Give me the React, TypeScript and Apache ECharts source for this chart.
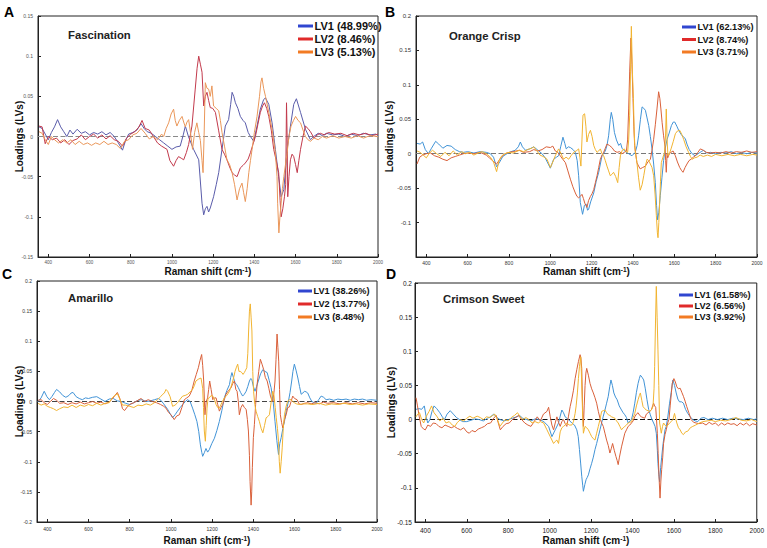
import React, { useEffect, useRef } from "react";
import * as echarts from "echarts";

type Pt = [number, number];

// ---------- tick labels / texts ----------
const xTicks = [400, 600, 800, 1000, 1200, 1400, 1600, 1800, 2000];
const panelLetters = ["A", "B", "C", "D"];
const panelTitles = ["Fascination", "Orange Crisp", "Amarillo", "Crimson Sweet"];
const legendA = ["LV1 (48.99%)", "LV2 (8.46%)", "LV3 (5.13%)"];
const legendB = ["LV1 (62.13%)", "LV2 (8.74%)", "LV3 (3.71%)"];
const legendC = ["LV1 (38.26%)", "LV2 (13.77%)", "LV3 (8.48%)"];
const legendD = ["LV1 (61.58%)", "LV2 (6.56%)", "LV3 (3.92%)"];
const yRangeA = [-0.15, 0.15];
const yRangeB = [-0.15, 0.2];
const yRangeC = [-0.2, 0.2];
const yRangeD = [-0.15, 0.2];
const xRange = [350, 2000];

// ---------- Panel A : Fascination ----------
const aLV1: Pt[] = [[355,0.012],[370,0.01],[385,0.003],[400,-0.004],[415,0.005],[430,0.012],[445,0.021],[460,0.012],[475,0.006],[490,0.0],[505,0.008],[520,0.003],[540,0.009],[560,0.004],[580,0.006],[600,0.002],[620,0.005],[640,0.003],[660,0.006],[680,0.002],[700,0.005],[720,0.0],[740,-0.008],[760,-0.017],[775,-0.005],[790,0.003],[810,0.005],[830,0.008],[850,0.016],[865,0.01],[880,0.006],[900,0.004],[920,0.0],[940,-0.004],[960,-0.008],[980,-0.012],[1000,-0.016],[1020,-0.013],[1040,-0.012],[1055,0.002],[1065,0.013],[1080,0.0],[1105,-0.016],[1130,-0.029],[1146,-0.083],[1154,-0.0975],[1162,-0.09],[1170,-0.087],[1178,-0.094],[1186,-0.089],[1202,-0.075],[1215,-0.06],[1227,-0.045],[1243,-0.016],[1259,0.013],[1275,0.021],[1285,0.04],[1292,0.055],[1300,0.05],[1308,0.042],[1320,0.035],[1332,0.025],[1345,0.02],[1356,0.017],[1370,0.005],[1381,0.0],[1397,-0.006],[1413,0.013],[1429,0.034],[1445,0.046],[1454,0.048],[1470,0.04],[1486,0.017],[1502,-0.016],[1518,-0.05],[1530,-0.075],[1543,-0.066],[1559,-0.016],[1575,0.013],[1591,0.04],[1604,0.047],[1624,0.03],[1648,0.009],[1672,-0.004],[1688,0.0],[1710,0.004],[1730,0.001],[1750,0.004],[1780,0.002],[1810,0.003],[1840,0.0],[1870,0.003],[1900,0.001],[1930,0.004],[1960,0.002],[1990,0.003],[2000,0.001]];
const aLV2: Pt[] = [[355,0.013],[370,0.012],[385,-0.009],[400,0.0],[420,-0.004],[440,-0.002],[460,-0.008],[480,-0.004],[500,-0.01],[520,-0.005],[540,-0.003],[560,0.002],[580,-0.004],[600,0.0],[620,0.003],[640,-0.002],[660,0.002],[680,-0.003],[700,0.001],[720,-0.004],[740,-0.006],[760,-0.012],[780,-0.002],[800,0.003],[820,0.006],[840,0.012],[855,0.02],[870,0.01],[890,0.008],[910,0.0],[930,-0.008],[950,-0.012],[976,-0.016],[990,-0.03],[1008,-0.037],[1020,-0.03],[1032,-0.025],[1045,-0.027],[1057,-0.029],[1070,-0.02],[1081,-0.01],[1097,0.013],[1113,0.059],[1122,0.085],[1130,0.1],[1138,0.09],[1146,0.08],[1154,0.038],[1162,0.05],[1170,0.055],[1178,0.045],[1186,0.036],[1198,0.035],[1211,0.03],[1227,0.007],[1243,-0.016],[1255,-0.022],[1267,-0.029],[1280,-0.038],[1292,-0.045],[1304,-0.048],[1316,-0.05],[1332,-0.039],[1345,-0.036],[1356,-0.033],[1370,-0.028],[1381,-0.02],[1393,-0.01],[1405,0.0],[1417,0.015],[1429,0.03],[1440,0.038],[1449,0.042],[1460,0.035],[1470,0.025],[1482,0.008],[1494,-0.016],[1506,-0.03],[1518,-0.045],[1525,-0.08],[1530,-0.1],[1538,-0.09],[1546,-0.075],[1552,-0.06],[1556,0.042],[1559,0.0],[1562,-0.075],[1568,-0.05],[1575,-0.029],[1583,-0.022],[1591,-0.025],[1600,-0.035],[1608,-0.045],[1616,-0.03],[1624,-0.016],[1636,0.0],[1648,0.013],[1660,0.01],[1672,0.006],[1690,-0.002],[1705,0.002],[1720,0.004],[1740,0.002],[1760,0.005],[1790,0.003],[1820,0.004],[1850,0.001],[1880,0.004],[1910,0.002],[1940,0.004],[1970,0.001],[2000,0.003]];
const aLV3: Pt[] = [[355,0.006],[370,0.004],[385,-0.004],[400,-0.01],[415,0.0],[430,-0.004],[450,-0.008],[470,-0.004],[490,-0.008],[510,-0.004],[530,-0.01],[550,-0.006],[570,-0.01],[590,-0.008],[610,-0.011],[630,-0.008],[650,-0.01],[670,-0.006],[690,-0.01],[710,-0.008],[730,-0.01],[750,-0.015],[770,-0.006],[790,-0.004],[810,0.002],[830,0.004],[850,0.01],[870,0.004],[890,-0.003],[910,0.0],[930,-0.004],[950,0.003],[960,0.0],[972,0.01],[984,0.017],[996,0.028],[1008,0.034],[1016,0.02],[1024,0.013],[1036,0.02],[1049,0.025],[1057,0.018],[1065,0.012],[1073,0.018],[1081,0.021],[1090,0.005],[1100,-0.016],[1110,0.005],[1121,0.017],[1130,0.005],[1138,-0.005],[1146,-0.03],[1151,-0.045],[1156,0.0],[1162,0.067],[1170,0.06],[1178,0.059],[1186,0.05],[1194,0.063],[1202,0.038],[1215,0.035],[1227,0.032],[1235,0.02],[1243,0.005],[1255,-0.012],[1267,-0.029],[1280,-0.035],[1292,-0.045],[1304,-0.06],[1316,-0.079],[1328,-0.065],[1340,-0.058],[1348,-0.07],[1356,-0.081],[1365,-0.065],[1373,-0.045],[1381,-0.03],[1389,-0.016],[1400,0.005],[1413,0.025],[1425,0.05],[1432,0.068],[1437,0.073],[1445,0.06],[1454,0.05],[1470,0.03],[1486,0.009],[1502,-0.02],[1510,-0.05],[1513,-0.083],[1519,-0.12],[1524,-0.1],[1530,-0.083],[1536,-0.065],[1543,-0.05],[1551,-0.035],[1559,-0.02],[1568,0.0],[1578,0.013],[1590,0.02],[1600,0.025],[1612,0.02],[1624,0.017],[1636,0.008],[1648,0.0],[1660,-0.004],[1672,-0.006],[1690,-0.002],[1710,-0.004],[1730,0.0],[1750,-0.002],[1780,0.001],[1810,-0.002],[1840,0.0],[1870,-0.002],[1900,0.001],[1930,-0.002],[1960,0.001],[2000,0.0]];

// ---------- Panel B : Orange Crisp ----------
const bLV1: Pt[] = [[355,0.015],[370,0.014],[382,0.017],[395,0.006],[410,0.0],[425,0.008],[445,0.018],[460,0.014],[480,0.008],[500,0.012],[520,0.011],[540,0.006],[560,0.003],[580,0.002],[600,0.003],[630,0.001],[660,0.003],[690,0.002],[710,0.0],[725,-0.005],[740,-0.019],[755,-0.012],[770,-0.004],[790,0.0],[810,0.003],[830,0.005],[845,0.01],[855,0.017],[865,0.01],[880,0.005],[900,0.007],[920,0.01],[940,0.005],[960,0.0],[975,-0.006],[990,-0.015],[1000,-0.021],[1016,-0.008],[1030,-0.005],[1040,-0.003],[1050,0.01],[1061,0.024],[1070,0.015],[1077,0.007],[1087,0.01],[1097,0.009],[1110,0.006],[1121,0.002],[1130,-0.01],[1137,-0.032],[1145,-0.071],[1156,-0.088],[1165,-0.075],[1173,-0.073],[1180,-0.082],[1185,-0.081],[1195,-0.07],[1210,-0.057],[1222,-0.04],[1234,-0.027],[1250,-0.003],[1266,0.004],[1274,0.012],[1282,0.026],[1290,0.05],[1295,0.06],[1302,0.05],[1310,0.031],[1320,0.02],[1331,0.012],[1340,0.015],[1347,0.008],[1363,0.003],[1379,0.0],[1395,-0.003],[1411,0.002],[1420,0.012],[1427,0.026],[1436,0.05],[1444,0.068],[1452,0.066],[1460,0.063],[1468,0.052],[1476,0.041],[1484,0.025],[1492,0.007],[1500,-0.015],[1508,-0.042],[1514,-0.075],[1519,-0.096],[1525,-0.085],[1532,-0.061],[1540,-0.035],[1548,-0.01],[1556,0.008],[1565,0.021],[1575,0.03],[1586,0.041],[1595,0.046],[1602,0.046],[1612,0.04],[1621,0.034],[1633,0.028],[1645,0.024],[1653,0.022],[1661,0.014],[1672,0.006],[1686,0.0],[1700,-0.003],[1715,0.0],[1730,0.003],[1742,0.005],[1755,0.001],[1775,0.002],[1800,0.0],[1825,0.002],[1850,0.001],[1875,0.003],[1900,0.0],[1925,0.002],[1950,0.0],[1975,0.002],[2000,0.001]];
const bLV2: Pt[] = [[355,-0.015],[368,-0.005],[382,-0.002],[400,0.0],[420,0.001],[440,-0.003],[460,-0.005],[480,-0.008],[500,-0.01],[520,-0.006],[540,-0.004],[560,-0.002],[580,0.0],[600,0.001],[630,0.0],[660,0.002],[690,-0.002],[705,-0.006],[720,-0.01],[740,-0.015],[760,-0.006],[780,0.0],[800,0.002],[820,0.003],[850,0.005],[870,0.002],[900,0.003],[920,0.006],[940,0.004],[960,0.006],[980,0.01],[1000,0.009],[1012,0.011],[1024,0.004],[1036,0.002],[1048,-0.003],[1060,-0.008],[1073,-0.013],[1085,-0.025],[1097,-0.037],[1109,-0.048],[1121,-0.057],[1129,-0.062],[1137,-0.064],[1145,-0.062],[1153,-0.059],[1160,-0.065],[1167,-0.072],[1177,-0.078],[1185,-0.068],[1194,-0.062],[1202,-0.058],[1210,-0.052],[1218,-0.042],[1226,-0.032],[1234,-0.02],[1242,-0.008],[1250,-0.002],[1258,0.002],[1266,0.008],[1274,0.014],[1286,0.012],[1298,0.009],[1310,0.004],[1323,0.002],[1335,0.003],[1347,0.0],[1358,0.002],[1368,0.004],[1374,0.02],[1379,0.065],[1384,0.12],[1390,0.168],[1395,0.13],[1400,0.08],[1404,0.04],[1408,0.012],[1414,-0.002],[1419,-0.013],[1427,-0.018],[1435,-0.022],[1447,-0.02],[1460,-0.018],[1472,-0.012],[1484,-0.008],[1492,0.005],[1500,0.021],[1508,0.042],[1516,0.065],[1524,0.09],[1530,0.08],[1535,0.065],[1541,0.045],[1548,0.026],[1555,0.01],[1558,-0.01],[1561,-0.027],[1565,0.0],[1568,-0.006],[1576,0.0],[1584,0.002],[1594,0.004],[1605,-0.003],[1615,-0.012],[1626,-0.02],[1634,-0.024],[1642,-0.027],[1652,-0.02],[1661,-0.015],[1671,-0.01],[1681,-0.008],[1692,-0.005],[1702,-0.003],[1714,0.002],[1726,0.007],[1740,0.005],[1755,0.002],[1775,0.001],[1800,0.002],[1825,0.001],[1850,0.003],[1875,0.001],[1900,0.003],[1925,0.002],[1950,0.004],[1975,0.002],[2000,0.003]];
const bLV3: Pt[] = [[355,0.004],[370,0.002],[385,-0.002],[400,-0.006],[415,0.001],[430,0.005],[450,0.0],[470,-0.004],[490,0.002],[510,-0.003],[530,0.004],[550,-0.002],[570,0.003],[590,0.0],[610,0.002],[630,-0.002],[650,0.001],[670,0.003],[690,0.0],[710,-0.005],[725,-0.012],[740,-0.026],[752,-0.01],[765,-0.003],[780,0.0],[800,0.002],[820,0.001],[850,0.005],[870,0.003],[890,0.006],[910,0.008],[920,0.01],[935,0.004],[950,-0.002],[965,-0.004],[984,-0.008],[1000,-0.02],[1012,-0.012],[1024,-0.003],[1040,0.007],[1052,0.0],[1064,-0.008],[1076,-0.005],[1089,-0.008],[1100,-0.003],[1113,0.002],[1125,0.004],[1137,0.007],[1143,-0.005],[1148,-0.018],[1153,0.02],[1158,0.056],[1166,0.058],[1172,0.04],[1177,0.017],[1185,0.028],[1194,0.034],[1202,0.025],[1210,0.012],[1218,0.006],[1226,0.002],[1234,0.004],[1242,0.007],[1250,0.0],[1258,-0.003],[1266,-0.01],[1274,-0.018],[1282,-0.025],[1290,-0.032],[1298,-0.03],[1306,-0.027],[1316,-0.033],[1326,-0.042],[1333,-0.02],[1339,-0.003],[1348,0.005],[1358,0.007],[1366,0.003],[1374,0.002],[1379,0.02],[1384,0.056],[1388,0.12],[1392,0.185],[1397,0.12],[1402,0.08],[1406,0.03],[1410,0.005],[1415,-0.005],[1419,-0.013],[1427,-0.035],[1435,-0.053],[1444,-0.045],[1452,-0.032],[1460,-0.018],[1468,-0.008],[1476,-0.01],[1484,-0.015],[1492,-0.02],[1500,-0.032],[1507,-0.06],[1513,-0.09],[1518,-0.115],[1521,-0.122],[1525,-0.1],[1529,-0.071],[1533,-0.04],[1537,-0.013],[1545,-0.005],[1553,0.002],[1558,0.03],[1561,0.065],[1565,0.02],[1569,-0.003],[1576,0.0],[1584,0.007],[1595,0.018],[1605,0.029],[1615,0.033],[1626,0.034],[1636,0.028],[1645,0.021],[1657,0.01],[1669,0.002],[1678,-0.004],[1686,-0.008],[1698,-0.006],[1710,-0.005],[1725,-0.002],[1740,-0.004],[1760,-0.002],[1780,-0.004],[1800,-0.001],[1830,-0.003],[1860,-0.001],[1890,-0.003],[1920,-0.001],[1950,-0.003],[1980,-0.001],[2000,-0.002]];

// ---------- Panel C : Amarillo ----------
const cLV1: Pt[] = [[355,0.0],[370,0.006],[385,0.017],[398,0.008],[410,0.003],[422,0.008],[435,0.015],[445,0.02],[460,0.016],[475,0.01],[490,0.007],[505,0.01],[515,0.014],[525,0.015],[540,0.008],[555,0.005],[570,0.003],[585,0.006],[600,0.005],[620,0.007],[640,0.008],[660,0.004],[680,0.0],[700,0.004],[720,0.005],[740,0.001],[760,0.0],[780,-0.003],[800,-0.005],[820,-0.002],[840,0.002],[860,0.003],[880,0.0],[900,0.001],[920,0.003],[940,0.005],[951,0.002],[965,-0.004],[984,-0.013],[996,-0.02],[1008,-0.027],[1020,-0.022],[1032,-0.016],[1045,-0.01],[1057,-0.005],[1070,0.0],[1081,0.003],[1093,0.0],[1105,-0.011],[1116,-0.022],[1126,-0.033],[1135,-0.05],[1143,-0.072],[1150,-0.085],[1154,-0.091],[1162,-0.085],[1170,-0.078],[1178,-0.084],[1186,-0.08],[1198,-0.07],[1211,-0.061],[1223,-0.048],[1235,-0.033],[1247,-0.015],[1259,0.006],[1271,0.018],[1284,0.028],[1290,0.04],[1296,0.048],[1303,0.04],[1311,0.031],[1319,0.028],[1327,0.023],[1338,0.015],[1348,0.009],[1356,0.012],[1365,0.017],[1373,0.025],[1381,0.034],[1387,0.038],[1392,0.037],[1400,0.025],[1408,0.017],[1416,0.025],[1424,0.034],[1435,0.046],[1446,0.053],[1456,0.05],[1467,0.048],[1477,0.035],[1486,0.023],[1496,0.0],[1505,-0.033],[1514,-0.065],[1522,-0.088],[1528,-0.07],[1535,-0.06],[1543,-0.045],[1551,-0.033],[1560,-0.015],[1570,0.0],[1578,0.015],[1586,0.034],[1592,0.05],[1599,0.062],[1607,0.052],[1616,0.039],[1624,0.025],[1632,0.012],[1640,0.014],[1648,0.017],[1656,0.016],[1664,0.014],[1674,0.006],[1684,0.0],[1695,-0.002],[1705,-0.003],[1717,0.003],[1729,0.009],[1741,0.007],[1753,0.003],[1770,0.004],[1790,0.002],[1810,0.004],[1830,0.003],[1850,0.004],[1870,0.002],[1890,0.004],[1910,0.003],[1930,0.004],[1950,0.002],[1970,0.003],[2000,0.002]];
const cLV2: Pt[] = [[355,0.002],[370,0.003],[385,-0.002],[400,-0.005],[415,0.0],[430,0.005],[445,0.002],[460,-0.003],[480,-0.002],[500,-0.005],[520,-0.002],[540,-0.004],[560,-0.001],[580,-0.004],[600,-0.002],[620,0.0],[640,-0.003],[660,-0.001],[680,-0.004],[700,-0.001],[715,0.004],[728,0.01],[740,0.015],[752,0.005],[765,-0.012],[775,-0.015],[790,-0.008],[805,-0.004],[820,-0.002],[840,0.002],[855,0.005],[870,0.0],[890,0.003],[910,0.0],[930,-0.002],[950,-0.005],[965,-0.008],[976,-0.011],[988,-0.018],[1000,-0.022],[1008,-0.026],[1016,-0.03],[1028,-0.024],[1041,-0.022],[1053,-0.01],[1065,0.003],[1077,0.006],[1089,0.009],[1101,0.018],[1113,0.034],[1123,0.045],[1133,0.056],[1141,0.068],[1149,0.078],[1154,0.06],[1159,0.034],[1165,-0.022],[1171,0.0],[1178,0.006],[1183,0.02],[1188,0.034],[1195,0.02],[1203,0.003],[1211,0.006],[1219,0.006],[1227,-0.005],[1235,-0.016],[1243,-0.01],[1251,-0.005],[1259,0.003],[1267,0.012],[1279,0.018],[1292,0.023],[1300,0.03],[1308,0.034],[1315,0.02],[1321,0.017],[1327,0.0],[1332,-0.022],[1340,-0.01],[1348,-0.005],[1356,-0.01],[1365,-0.013],[1371,-0.03],[1376,-0.049],[1381,-0.09],[1384,-0.133],[1389,-0.172],[1392,-0.15],[1395,-0.11],[1400,-0.06],[1405,-0.038],[1411,-0.005],[1418,0.028],[1426,0.05],[1434,0.07],[1442,0.062],[1450,0.053],[1458,0.04],[1467,0.034],[1475,0.022],[1483,0.009],[1489,0.003],[1494,0.0],[1500,0.015],[1505,0.034],[1510,0.07],[1515,0.112],[1519,0.09],[1523,0.067],[1527,0.02],[1531,-0.022],[1537,-0.035],[1543,-0.044],[1551,-0.03],[1559,-0.022],[1567,-0.01],[1575,-0.009],[1583,0.0],[1591,0.009],[1600,0.005],[1612,0.003],[1622,-0.004],[1632,-0.005],[1648,-0.003],[1664,-0.002],[1680,-0.004],[1700,-0.002],[1720,-0.004],[1740,-0.001],[1760,-0.003],[1790,-0.002],[1820,-0.004],[1850,-0.002],[1880,-0.004],[1910,-0.002],[1940,-0.004],[1970,-0.002],[2000,-0.003]];
const cLV3: Pt[] = [[355,-0.003],[370,-0.006],[385,-0.004],[400,-0.008],[415,-0.01],[430,-0.012],[445,-0.015],[460,-0.012],[480,-0.009],[500,-0.01],[520,-0.006],[540,-0.01],[560,-0.006],[580,-0.008],[600,-0.005],[620,-0.007],[640,-0.003],[660,-0.006],[680,-0.003],[700,-0.002],[715,0.006],[728,0.01],[740,0.013],[752,0.004],[765,-0.006],[780,-0.006],[800,-0.008],[820,-0.01],[840,-0.006],[860,-0.007],[880,-0.004],[900,-0.006],[920,-0.002],[935,0.003],[950,0.008],[960,0.012],[968,0.014],[976,0.02],[984,0.017],[996,0.008],[1008,-0.008],[1020,-0.006],[1032,-0.002],[1045,0.004],[1057,0.009],[1069,0.01],[1081,0.012],[1093,0.016],[1105,0.02],[1113,0.026],[1121,0.034],[1133,0.037],[1146,0.039],[1154,0.022],[1158,-0.01],[1162,-0.049],[1167,-0.066],[1171,-0.04],[1175,-0.011],[1180,0.005],[1186,0.006],[1195,0.01],[1203,0.009],[1211,0.004],[1219,-0.005],[1227,-0.01],[1235,-0.011],[1247,-0.002],[1259,0.006],[1271,0.01],[1284,0.017],[1292,0.025],[1300,0.034],[1306,0.042],[1311,0.05],[1318,0.057],[1324,0.062],[1330,0.05],[1336,0.05],[1344,0.048],[1350,0.045],[1356,0.048],[1362,0.052],[1368,0.056],[1373,0.08],[1377,0.117],[1381,0.15],[1385,0.162],[1389,0.14],[1393,0.117],[1397,0.05],[1401,0.017],[1407,-0.005],[1413,-0.016],[1421,-0.025],[1429,-0.033],[1438,-0.045],[1446,-0.052],[1454,-0.04],[1462,-0.027],[1470,-0.025],[1478,-0.022],[1486,-0.002],[1494,0.017],[1500,0.01],[1506,-0.01],[1511,-0.027],[1517,-0.045],[1522,-0.066],[1526,-0.1],[1530,-0.119],[1535,-0.1],[1540,-0.077],[1545,-0.045],[1551,-0.022],[1559,-0.008],[1567,0.001],[1575,0.003],[1583,0.003],[1591,0.0],[1599,-0.002],[1610,-0.004],[1624,-0.005],[1640,-0.004],[1664,-0.004],[1690,-0.005],[1720,-0.003],[1750,-0.006],[1780,-0.004],[1810,-0.005],[1840,-0.003],[1870,-0.005],[1900,-0.004],[1930,-0.006],[1960,-0.004],[2000,-0.005]];

// ---------- Panel D : Crimson Sweet ----------
const dLV1: Pt[] = [[355,0.015],[370,0.016],[382,0.015],[395,0.02],[405,0.002],[412,-0.005],[422,0.0],[432,0.012],[442,0.02],[455,0.016],[470,0.01],[482,0.004],[492,0.0],[505,0.008],[520,0.013],[535,0.008],[550,0.003],[565,0.0],[580,-0.003],[600,-0.003],[620,-0.001],[640,0.001],[660,0.0],[680,-0.002],[700,0.002],[715,0.004],[730,0.008],[745,0.003],[760,0.0],[780,-0.002],[800,0.0],[820,0.002],[840,0.004],[855,0.006],[870,0.002],[890,0.0],[910,-0.002],[930,0.001],[955,0.0],[975,-0.004],[995,-0.01],[1011,-0.025],[1027,-0.015],[1043,-0.005],[1051,0.005],[1059,0.014],[1067,0.01],[1075,0.004],[1091,0.0],[1107,-0.005],[1120,-0.008],[1131,-0.015],[1138,-0.025],[1144,-0.044],[1150,-0.065],[1155,-0.083],[1160,-0.097],[1163,-0.105],[1170,-0.095],[1176,-0.088],[1181,-0.085],[1187,-0.081],[1195,-0.072],[1203,-0.064],[1211,-0.055],[1219,-0.044],[1227,-0.035],[1235,-0.025],[1243,-0.015],[1251,-0.005],[1259,0.005],[1267,0.014],[1275,0.024],[1283,0.034],[1290,0.048],[1296,0.058],[1303,0.05],[1310,0.039],[1318,0.033],[1326,0.029],[1336,0.02],[1347,0.014],[1355,0.01],[1363,0.007],[1371,0.003],[1379,-0.005],[1387,-0.002],[1395,0.0],[1403,0.01],[1411,0.024],[1419,0.04],[1427,0.053],[1433,0.06],[1438,0.065],[1446,0.062],[1454,0.058],[1462,0.045],[1470,0.029],[1478,0.015],[1486,0.007],[1494,0.0],[1502,-0.005],[1509,-0.01],[1515,-0.02],[1520,-0.045],[1523,-0.064],[1527,-0.08],[1531,-0.091],[1536,-0.07],[1541,-0.055],[1546,-0.04],[1550,-0.03],[1557,-0.015],[1563,-0.01],[1571,0.005],[1579,0.024],[1587,0.04],[1595,0.058],[1603,0.05],[1611,0.039],[1619,0.03],[1627,0.026],[1637,0.026],[1646,0.024],[1656,0.015],[1667,0.009],[1679,0.004],[1691,0.0],[1703,-0.002],[1715,-0.003],[1730,0.002],[1745,0.003],[1765,0.0],[1785,0.002],[1810,0.0],[1835,0.002],[1860,0.0],[1885,0.002],[1910,0.001],[1935,0.0],[1960,0.002],[1985,0.0],[2000,0.001]];
const dLV2: Pt[] = [[355,0.032],[362,0.02],[370,0.005],[380,-0.01],[392,-0.014],[400,-0.015],[412,-0.008],[425,-0.01],[438,-0.005],[452,-0.006],[465,-0.01],[480,-0.012],[495,-0.008],[510,-0.01],[525,-0.012],[540,-0.01],[555,-0.013],[570,-0.015],[585,-0.012],[600,-0.018],[612,-0.02],[625,-0.016],[640,-0.018],[655,-0.014],[670,-0.012],[685,-0.01],[700,-0.006],[715,-0.005],[730,0.002],[742,0.006],[752,-0.005],[762,-0.015],[775,-0.01],[790,-0.006],[805,-0.005],[820,0.0],[835,0.003],[850,0.006],[865,0.0],[880,-0.005],[895,-0.008],[910,-0.01],[925,-0.003],[940,0.004],[955,-0.002],[970,0.008],[987,0.012],[995,0.018],[1003,0.004],[1011,-0.008],[1019,-0.015],[1027,-0.005],[1035,0.004],[1043,-0.004],[1051,-0.01],[1059,-0.003],[1067,0.0],[1075,-0.006],[1083,-0.01],[1091,0.005],[1099,0.019],[1107,0.03],[1115,0.043],[1123,0.06],[1131,0.073],[1139,0.085],[1147,0.095],[1151,0.09],[1155,0.075],[1159,0.02],[1163,-0.01],[1167,0.02],[1171,0.05],[1175,0.068],[1179,0.075],[1187,0.065],[1195,0.053],[1203,0.045],[1211,0.039],[1219,0.032],[1227,0.024],[1235,0.012],[1243,0.002],[1251,-0.005],[1259,-0.01],[1267,-0.02],[1275,-0.03],[1283,-0.038],[1291,-0.049],[1298,-0.042],[1304,-0.035],[1312,-0.045],[1320,-0.054],[1326,-0.06],[1331,-0.066],[1337,-0.055],[1347,-0.04],[1355,-0.03],[1363,-0.02],[1371,-0.015],[1379,-0.01],[1387,-0.008],[1395,-0.005],[1403,-0.002],[1411,0.004],[1419,0.008],[1427,0.01],[1435,0.006],[1443,0.004],[1451,0.003],[1459,0.002],[1467,0.008],[1475,0.01],[1483,0.012],[1491,0.014],[1497,0.02],[1502,0.024],[1507,0.02],[1512,0.018],[1516,0.0],[1520,-0.02],[1524,-0.05],[1528,-0.083],[1533,-0.115],[1537,-0.09],[1541,-0.073],[1546,-0.055],[1550,-0.035],[1557,-0.022],[1563,-0.015],[1570,-0.005],[1576,0.0],[1582,0.02],[1588,0.04],[1592,0.053],[1600,0.06],[1607,0.055],[1614,0.048],[1622,0.045],[1630,0.046],[1638,0.04],[1646,0.034],[1654,0.027],[1662,0.019],[1672,0.01],[1683,0.0],[1695,-0.004],[1707,-0.005],[1720,-0.006],[1739,-0.005],[1755,-0.008],[1770,-0.004],[1785,-0.007],[1800,-0.005],[1815,-0.009],[1830,-0.005],[1845,-0.008],[1860,-0.005],[1875,-0.007],[1890,-0.006],[1905,-0.009],[1920,-0.005],[1935,-0.008],[1950,-0.005],[1965,-0.009],[1980,-0.006],[2000,-0.008]];
const dLV3: Pt[] = [[355,0.004],[363,0.008],[372,0.01],[382,0.0],[392,-0.005],[405,0.005],[418,0.012],[430,0.02],[442,0.01],[455,0.005],[470,-0.002],[485,0.002],[500,-0.005],[515,-0.003],[530,-0.008],[542,-0.01],[555,-0.004],[570,0.0],[585,-0.002],[600,0.002],[615,0.005],[630,0.002],[650,0.005],[665,0.003],[680,0.0],[695,0.004],[710,0.003],[725,0.006],[735,0.008],[748,0.0],[760,-0.01],[772,-0.005],[785,0.0],[800,-0.002],[815,0.003],[830,0.006],[845,0.01],[858,0.004],[870,0.0],[885,0.003],[900,0.0],[915,-0.005],[930,-0.003],[945,-0.005],[955,-0.003],[971,-0.005],[987,-0.015],[1003,-0.025],[1019,-0.035],[1027,-0.032],[1035,-0.03],[1043,-0.035],[1051,-0.018],[1059,-0.012],[1067,-0.01],[1075,-0.008],[1083,-0.005],[1095,-0.008],[1107,-0.008],[1115,-0.003],[1123,0.009],[1128,0.02],[1134,0.039],[1139,0.06],[1144,0.078],[1150,0.092],[1153,0.07],[1157,0.03],[1160,0.0],[1163,-0.02],[1167,-0.015],[1171,-0.01],[1179,-0.012],[1187,-0.015],[1195,-0.02],[1203,-0.025],[1211,-0.028],[1219,-0.03],[1227,-0.02],[1235,-0.01],[1243,0.0],[1251,0.012],[1259,0.013],[1267,0.014],[1275,0.01],[1283,0.007],[1291,0.006],[1299,0.004],[1307,0.003],[1315,0.002],[1323,-0.002],[1331,-0.005],[1339,-0.01],[1347,-0.015],[1355,-0.012],[1363,-0.01],[1371,-0.008],[1379,-0.005],[1387,-0.004],[1395,-0.003],[1403,0.003],[1411,0.009],[1419,0.02],[1427,0.029],[1433,0.035],[1438,0.039],[1445,0.028],[1451,0.019],[1459,0.016],[1467,0.014],[1475,0.013],[1483,0.012],[1491,0.014],[1499,0.019],[1504,0.045],[1507,0.078],[1511,0.14],[1515,0.195],[1519,0.15],[1523,0.102],[1527,0.05],[1531,-0.005],[1535,-0.012],[1539,-0.02],[1545,-0.01],[1550,-0.005],[1557,-0.008],[1563,-0.01],[1571,-0.008],[1579,-0.005],[1587,-0.003],[1595,0.0],[1603,0.009],[1608,0.002],[1614,-0.005],[1622,-0.012],[1630,-0.015],[1638,-0.02],[1646,-0.022],[1656,-0.018],[1667,-0.017],[1679,-0.012],[1691,-0.01],[1705,-0.008],[1723,-0.005],[1740,-0.003],[1760,-0.002],[1780,-0.001],[1800,-0.003],[1825,-0.001],[1850,-0.002],[1875,0.0],[1900,0.003],[1925,-0.001],[1950,-0.002],[1975,0.0],[2000,-0.003]];

// ---------- styling / layout (not data) ----------
const FONT = "Liberation Sans, Arial, Helvetica, sans-serif";
const lineColorsA = ["#5a5caa", "#c23a4c", "#ea975a"];
const lineColorsBCD = ["#4193d6", "#d9603a", "#f1b431"];
const legendIconColors = ["#3046d0", "#e02a2a", "#f27b24"];

const panels = [
  { series: [aLV1, aLV2, aLV3], legend: legendA, yr: yRangeA, colors: lineColorsA,
    grid: { left: 38, top: 16, width: 340, height: 241 },
    xFont: 4.5, yFont: 5, xMargin: 3, yMargin: 5, xNameGap: 9, yNameGap: 14, zero: "#8a8a8a", lblColor: "#555",
    letter: [4, 13], title: [68, 35], leg: { x: 298, y: 26, step: 13, font: 11, w: 15 }, showMin: true },
  { series: [bLV1, bLV2, bLV3], legend: legendB, yr: yRangeB, colors: lineColorsBCD,
    grid: { left: 416, top: 16, width: 341, height: 241 },
    xFont: 5, yFont: 6, xMargin: 3, yMargin: 5, xNameGap: 9, yNameGap: 22, zero: "#777", lblColor: "#333",
    letter: [385, 13], title: [449, 36], leg: { x: 682, y: 27, step: 12.5, font: 9.2, w: 14 }, showMin: false },
  { series: [cLV1, cLV2, cLV3], legend: legendC, yr: yRangeC, colors: lineColorsBCD,
    grid: { left: 37, top: 281, width: 340, height: 241 },
    xFont: 5, yFont: 5, xMargin: 4, yMargin: 5, xNameGap: 13, yNameGap: 13, zero: "#444", lblColor: "#333",
    letter: [2, 275], title: [68, 298], leg: { x: 298, y: 291, step: 13, font: 9.2, w: 14 }, showMin: true },
  { series: [dLV1, dLV2, dLV3], legend: legendD, yr: yRangeD, colors: lineColorsBCD,
    grid: { left: 415, top: 283, width: 342, height: 239 },
    xFont: 6.5, yFont: 6.5, xMargin: 5, yMargin: 3, xNameGap: 13, yNameGap: 19, zero: "#111", lblColor: "#222",
    letter: [386, 275], title: [443, 299], leg: { x: 679, y: 295, step: 11, font: 9.2, w: 14 }, showMin: true },
];

export default function App() {
  const ref = useRef<HTMLDivElement>(null);
  useEffect(() => {
    if (!ref.current) return;
    const chart = echarts.init(ref.current, undefined, { renderer: "svg" });
    const grids: any[] = [];
    const xAxes: any[] = [];
    const yAxes: any[] = [];
    const series: any[] = [];
    const graphics: any[] = [];

    panels.forEach((p, i) => {
      grids.push({ ...p.grid, show: true, borderColor: "#222", borderWidth: 1, containLabel: false });
      xAxes.push({
        type: "value", gridIndex: i, min: xRange[0], max: xRange[1],
        axisLine: { show: true, onZero: false, lineStyle: { color: "#222", width: 1 } },
        axisTick: { show: true, inside: true, length: 3, customValues: xTicks, lineStyle: { color: "#222" } },
        axisLabel: { customValues: xTicks, fontSize: p.xFont, color: p.lblColor, margin: p.xMargin, fontFamily: FONT,
          formatter: (v: number) => String(v) },
        splitLine: { show: false },
        name: "{n|Raman shift (cm}{s|-1}{n|)}",
        nameLocation: "middle", nameGap: p.xNameGap, nameMoveOverlap: false,
        nameTextStyle: {
          rich: {
            n: { fontSize: 10, fontWeight: "bold", color: "#111", fontFamily: FONT },
            s: { fontSize: 6.5, fontWeight: "bold", color: "#111", fontFamily: FONT, verticalAlign: "top" },
          },
        },
      });
      yAxes.push({
        type: "value", gridIndex: i, min: p.yr[0], max: p.yr[1], interval: 0.05,
        axisLine: { show: true, onZero: false, lineStyle: { color: "#222", width: 1 } },
        axisTick: { show: true, inside: true, length: 3, lineStyle: { color: "#222" } },
        axisLabel: { fontSize: p.yFont, color: p.lblColor, margin: p.yMargin, fontFamily: FONT, showMinLabel: p.showMin },
        splitLine: { show: false },
        name: "Loadings (LVs)", nameLocation: "middle", nameGap: p.yNameGap, nameMoveOverlap: false,
        nameTextStyle: { fontSize: 10, fontWeight: "bold", color: "#111", fontFamily: FONT },
      });
      p.series.forEach((data, k) => {
        const s: any = {
          type: "line", name: p.legend[k], xAxisIndex: i, yAxisIndex: i, data,
          showSymbol: false, symbol: "none", smooth: false,
          lineStyle: { width: 1, color: p.colors[k] }, itemStyle: { color: p.colors[k] },
          z: 3 + k,
        };
        if (k === 0) {
          s.markLine = {
            silent: true, symbol: ["none", "none"], label: { show: false },
            lineStyle: { type: [5, 2.5], color: p.zero, width: 1.1 },
            data: [{ yAxis: 0 }], z: 2,
          };
        }
        series.push(s);
      });

      graphics.push({
        type: "text", left: p.letter[0], top: p.letter[1] - 8,
        style: { text: panelLetters[i], font: `bold 14px ${FONT}`, fill: "#000" },
      });
      graphics.push({
        type: "text", x: p.title[0], y: p.title[1],
        style: { text: panelTitles[i], font: `bold 11.3px ${FONT}`, fill: "#222", verticalAlign: "middle" },
      });
      p.legend.forEach((label, k) => {
        const y = p.leg.y + k * p.leg.step;
        graphics.push({
          type: "rect", shape: { x: p.leg.x, y: y - 1.5, width: p.leg.w, height: 3 },
          style: { fill: legendIconColors[k] },
        });
        graphics.push({
          type: "text", x: p.leg.x + p.leg.w + 1.5, y,
          style: { text: label, font: `bold ${p.leg.font}px ${FONT}`, fill: "#111", verticalAlign: "middle" },
        });
      });
    });

    chart.setOption({
      animation: false,
      backgroundColor: "#ffffff",
      textStyle: { fontFamily: FONT },
      grid: grids,
      xAxis: xAxes,
      yAxis: yAxes,
      series,
      graphic: graphics,
    });
    return () => chart.dispose();
  }, []);

  return (
    <div
      ref={ref}
      style={{ position: "absolute", left: 0, top: 0, width: 767, height: 548, background: "#fff" }}
    />
  );
}
